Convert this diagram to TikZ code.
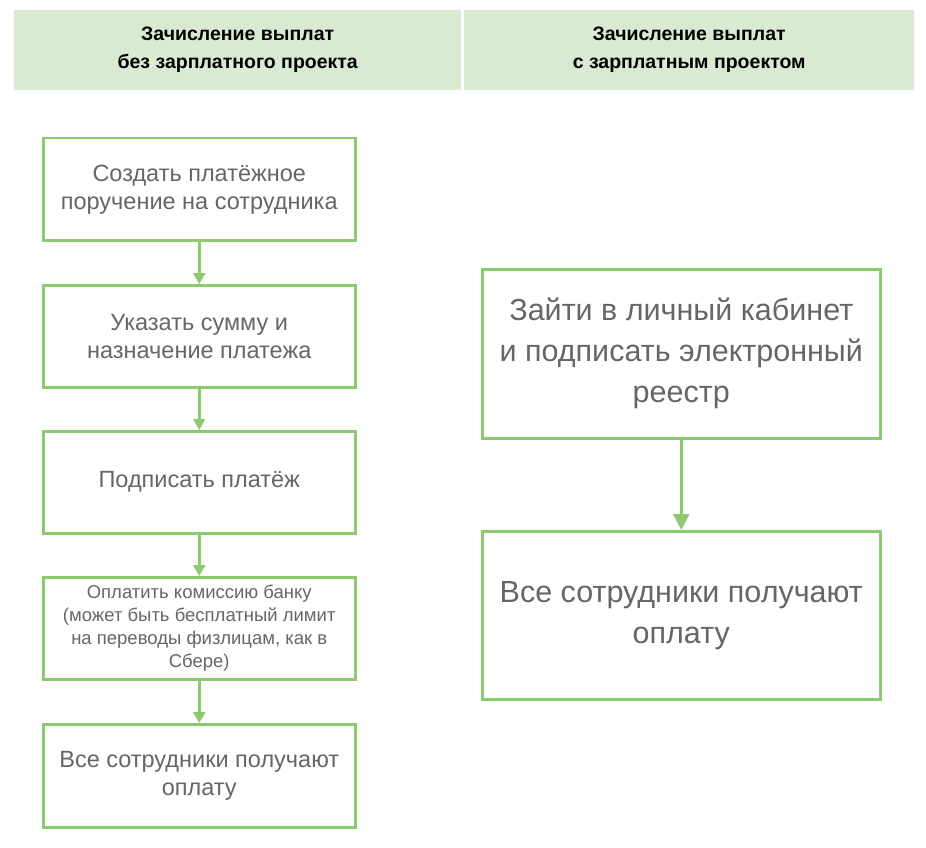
\documentclass[tikz,border=0pt]{standalone}
\usepackage{fontspec}
\setmainfont{Liberation Sans}
\usetikzlibrary{arrows.meta}
\definecolor{hdr}{HTML}{D9EAD3}
\definecolor{gb}{HTML}{8DC96F}
\definecolor{tx}{HTML}{666666}
\begin{document}
\begin{tikzpicture}[x=1pt,y=-1pt,
 hd/.style={fill=hdr,draw=none,font=\bfseries\fontsize{19.5}{28}\selectfont,align=center,anchor=north west,inner sep=0},
 bx/.style={draw=gb,line width=2.5pt,fill=white,text=tx,align=center,anchor=north west,inner sep=0},
 ar/.style={draw=gb,line width=2.5pt,-{Triangle[length=11pt,width=12pt]}}]
\useasboundingbox (0,0) rectangle (926,848);
\node[hd,minimum width=447pt,minimum height=80pt] (h1) at (14,10) {Зачисление выплат\\без зарплатного проекта};
\node[hd,minimum width=450pt,minimum height=80pt] (h2) at (464,10) {Зачисление выплат\\с зарплатным проектом};
\tikzset{lf/.style={bx,minimum width=312pt,minimum height=102pt,font=\fontsize{23.5}{28}\selectfont}}
\node[lf] (a1) at (42,137) {Создать платёжное\\поручение на сотрудника};
\node[lf] (a2) at (42,284) {Указать сумму и\\назначение платежа};
\node[lf] (a3) at (42,430) {Подписать платёж};
\node[lf,font=\fontsize{18.5}{23}\selectfont] (a4) at (42,576) {Оплатить комиссию банку\\(может быть бесплатный лимит\\на переводы физлицам, как в\\Сбере)};
\node[lf,minimum height=103pt] (a5) at (42,723) {Все сотрудники получают\\оплату};
\foreach \u/\v in {a1/a2,a2/a3,a3/a4,a4/a5} \draw[ar] (\u) -- (\v);
\tikzset{rt/.style={bx,minimum width=398pt,minimum height=169pt,font=\fontsize{30.5}{41}\selectfont}}
\node[rt] (b1) at (481,268) {Зайти в личный кабинет\\и подписать электронный\\реестр};
\node[rt,minimum height=168pt] (b2) at (481,530) {Все сотрудники получают\\оплату};
\draw[ar,-{Triangle[length=16pt,width=16pt]}] (b1) -- (b2);
\end{tikzpicture}
\end{document}
